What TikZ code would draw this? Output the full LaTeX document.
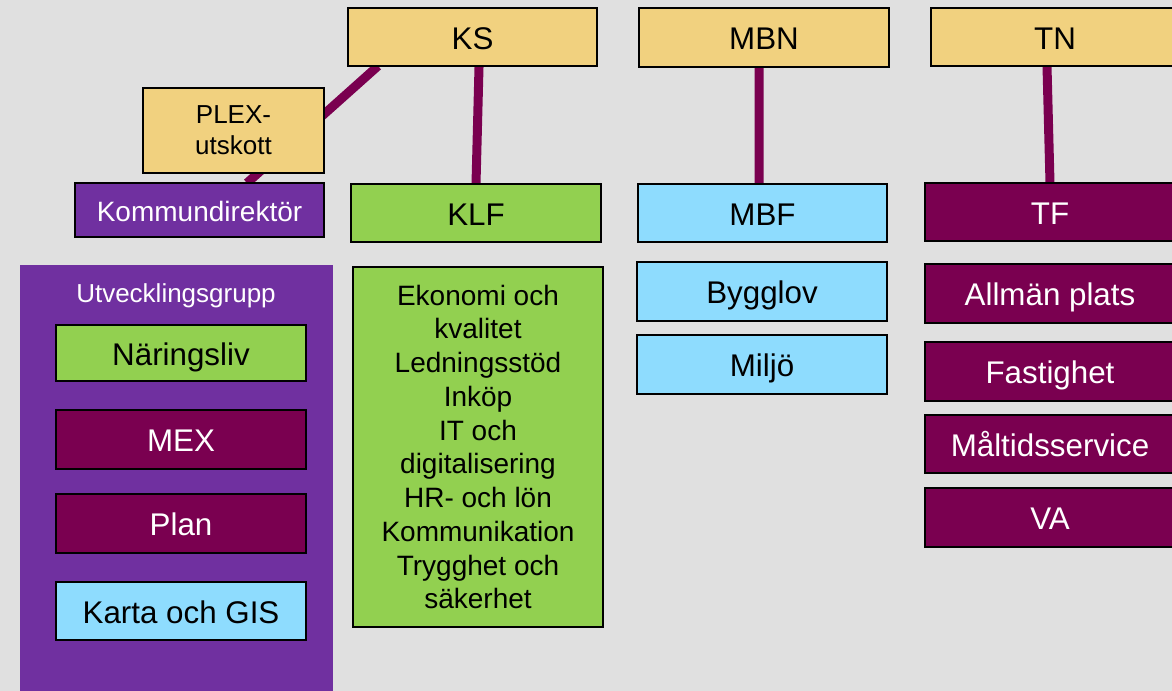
\documentclass[tikz,border=0pt]{standalone}
\usepackage{fontspec}
\setmainfont{Liberation Sans}
\pgfdeclarelayer{bg}
\pgfdeclarelayer{lines}
\pgfsetlayers{bg,lines,main}
\definecolor{cbg}{HTML}{E0E0E0}
\definecolor{cyel}{HTML}{F1D17F}
\definecolor{cgrn}{HTML}{92D050}
\definecolor{cblu}{HTML}{8EDCFE}
\definecolor{cmar}{HTML}{7A0050}
\definecolor{cprp}{HTML}{7030A0}
\tikzset{
  box/.style={draw=black, line width=1.1pt, inner sep=0pt, outer sep=0pt, align=center},
  yel/.style={box, fill=cyel, text=black},
  grn/.style={box, fill=cgrn, text=black},
  blu/.style={box, fill=cblu, text=black},
  mar/.style={box, fill=cmar, text=white},
  prp/.style={box, fill=cprp, text=white},
  big/.style={font=\fontsize{23.5}{28}\selectfont, text height=21pt, text depth=2.4pt},
  mid/.style={font=\fontsize{21}{25}\selectfont, text height=18.8pt, text depth=2.1pt},
  conn/.style={draw=cmar, line width=6.75pt},
}
\newcommand\bx[7]{\node[#6, minimum width={(#4-#2)*0.75pt}, minimum height={(#5-#3)*0.75pt}] (#1) at ({(#2+#4)/2},{(#3+#5)/2}) {#7};}
\begin{document}
\begin{tikzpicture}[x=0.75pt,y=-0.75pt]
\begin{pgfonlayer}{bg}
\fill[cbg] (0,0) rectangle (1172,691);
\end{pgfonlayer}
\useasboundingbox (0,0) rectangle (1172,691);
% top level
\bx{ks}{348}{8}{597}{66}{yel,big}{KS}
\bx{mbn}{639}{8}{889}{67}{yel,big}{MBN}
\bx{tn}{931}{8}{1179}{66}{yel,big}{TN}
\bx{plex}{143}{88}{324}{173}{yel,font=\fontsize{19.5}{23.5}\selectfont}{PLEX-\\utskott}
% second level
\bx{kd}{75}{183}{324}{237}{prp,mid}{Kommundirektör}
\bx{klf}{351}{184}{601}{242}{grn,big}{KLF}
\bx{mbf}{638}{184}{887}{242}{blu,big}{MBF}
\bx{tf}{925}{183}{1175}{241}{mar,big}{TF}
% utvecklingsgrupp
\node[fill=cprp, inner sep=0pt, outer sep=0pt, minimum width={313*0.75pt}, minimum height={435*0.75pt}] (ug) at (176.5,482.5) {};
\node[text=white, font=\fontsize{19.5}{23}\selectfont, inner sep=0pt] (ugt) at (176,296) {Utvecklingsgrupp};
\bx{nl}{56}{325}{306}{381}{grn,big}{Näringsliv}
\bx{mex}{56}{410}{306}{469}{mar,big}{MEX}
\bx{plan}{56}{494}{306}{553}{mar,big}{Plan}
\bx{gis}{56}{582}{306}{640}{blu,big}{Karta och GIS}
% KLF list
\bx{klfl}{353}{267}{603}{627}{grn,font=\fontsize{21}{25.3}\selectfont}{Ekonomi och\\kvalitet\\Ledningsstöd\\Inköp\\IT och\\digitalisering\\HR- och lön\\Kommunikation\\Trygghet och\\säkerhet}
% MBF list
\bx{byg}{637}{262}{887}{321}{blu,big}{Bygglov}
\bx{mil}{637}{335}{887}{394}{blu,big}{Miljö}
% TF list
\bx{allm}{925}{264}{1175}{323}{mar,big}{Allmän plats}
\bx{fast}{925}{342}{1175}{401}{mar,big}{Fastighet}
\bx{malt}{925}{415}{1175}{473}{mar,big}{Måltidsservice}
\bx{va}{925}{488}{1175}{547}{mar,big}{VA}
% connectors
\begin{pgfonlayer}{lines}
\draw[conn] ([xshift=22.5pt]ks.south west) -- ([xshift=129pt]kd.north west);
\draw[conn] ([xshift=4.9pt]ks.south) -- (klf.north);
\draw[conn] ([xshift=-3.75pt]mbn.south) -- ([xshift=-2.6pt]mbf.north);
\draw[conn] ([xshift=-6pt]tn.south) -- (tf.north);
\end{pgfonlayer}
\end{tikzpicture}
\end{document}
